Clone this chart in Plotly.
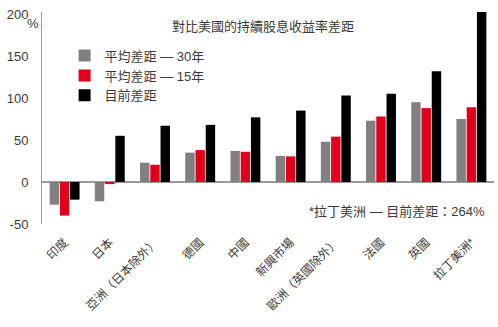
import plotly.graph_objects as go

categories = ["印度", "日本", "亞洲（日本除外）", "德國", "中國", "新興市場",
              "歐洲（英國除外）", "法國", "英國", "拉丁美洲*"]
avg30 = [-27, -23, 23, 35, 37, 31, 48, 73, 95, 75]
avg15 = [-40, -2.5, 20.5, 38, 36, 30.5, 54, 78, 88, 89]
current = [-21, 55, 67, 68, 77, 85, 103, 105, 132, 264]
series_names = ["平均差距 — 30年", "平均差距 — 15年", "目前差距"]
colors = ["#808080", "#e0001b", "#000000"]
ytick_vals = [-50, 0, 50, 100, 150, 200]
ytick_text = ["-50", "0", "50", "100", "150", "200"]
title_text = "對比美國的持續股息收益率差距"
note_text = "*拉丁美洲 — 目前差距：264%"

FONT = "Liberation Sans, Arial, Noto Sans CJK TC, sans-serif"
TXT = "#3a3a3a"

fig = go.Figure()
for name, vals, col in zip(series_names, [avg30, avg15, current], colors):
    fig.add_trace(go.Bar(x=categories, y=vals, name=name, marker_color=col,
                         marker_line_width=0))

fig.update_layout(
    width=498, height=327,
    margin=dict(l=42, r=4, t=12, b=103),
    paper_bgcolor="white", plot_bgcolor="white",
    barmode="group", bargap=0.32, bargroupgap=0.08,
    font=dict(family=FONT, size=13, color=TXT),
    showlegend=True,
    legend=dict(x=0.05, y=0.865, xanchor="left", yanchor="top",
                bgcolor="rgba(0,0,0,0)", font=dict(size=13, color=TXT),
                itemwidth=30, tracegroupgap=0, traceorder="normal"),
)
fig.update_xaxes(showline=False, showgrid=False, zeroline=False, ticks="",
                 tickangle=-45, ticklabelstandoff=8,
                 tickfont=dict(size=12, color=TXT))
fig.update_yaxes(range=[-50, 202.4], tickvals=ytick_vals, ticktext=ytick_text,
                 showgrid=False, showline=True, linecolor="#9a9a9a", linewidth=1,
                 zeroline=True, zerolinecolor="#9a9a9a", zerolinewidth=1.5,
                 ticks="", ticklabelstandoff=10,
                 tickfont=dict(size=13, color=TXT))

fig.add_annotation(text="%", xref="paper", yref="y", x=0, y=200, xanchor="right",
                   yanchor="top", showarrow=False, xshift=-1,
                   font=dict(size=13, color=TXT))
fig.add_annotation(text=title_text, xref="paper", yref="paper", x=0.49, y=1.0,
                   xanchor="center", yanchor="top", showarrow=False, yshift=-5,
                   font=dict(size=13, color=TXT))
fig.add_annotation(text=note_text, xref="paper", yref="y", x=0.985, y=-35,
                   xanchor="right", yanchor="middle", showarrow=False,
                   font=dict(size=13, color=TXT))

fig.write_html("out.html")
